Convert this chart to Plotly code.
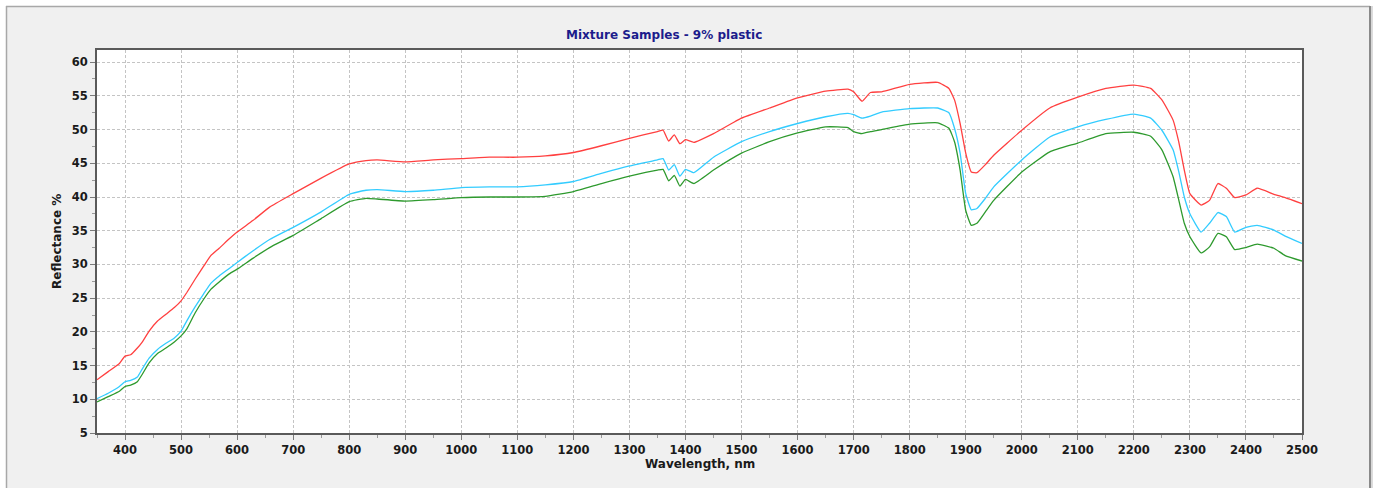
import plotly.graph_objects as go

wavelength = [350, 370, 390, 400, 410, 422, 430, 443, 458, 473, 488, 500, 510, 525, 540, 553, 568, 586,
              600, 628, 658, 700, 750, 800, 830, 850, 900, 950,
              1000, 1050, 1100, 1150, 1200, 1250, 1300, 1350, 1360, 1370, 1380, 1390, 1400, 1415,
              1450, 1500, 1550, 1600, 1650, 1690, 1700, 1715, 1730, 1750, 1800, 1850, 1870, 1880,
              1890, 1900, 1910, 1920, 1935, 1950, 2000, 2050, 2100, 2150, 2200, 2230, 2250, 2270, 2280,
              2290, 2300, 2320, 2335, 2350, 2365, 2380, 2400, 2420, 2450, 2470, 2500]

red = [12.9, 14.1, 15.3, 16.4, 16.6, 17.6, 18.4, 20.1, 21.6, 22.6, 23.6, 24.6, 25.8, 27.8, 29.7, 31.3, 32.4, 33.8,
       34.8, 36.5, 38.5, 40.5, 42.8, 44.9, 45.4, 45.5, 45.2, 45.5,
       45.7, 45.9, 45.9, 46.1, 46.6, 47.6, 48.7, 49.7, 49.9, 48.3, 49.2, 47.9, 48.5, 48.1,
       49.4, 51.7, 53.2, 54.7, 55.7, 56.0, 55.6, 54.2, 55.5, 55.6, 56.7, 57.0, 56.1, 54.4,
       50.9, 46.5, 43.7, 43.6, 44.8, 46.2, 49.9, 53.2, 54.8, 56.1, 56.6, 56.1, 54.4, 51.4, 48.2,
       44.0, 40.5, 38.8, 39.5, 42.0, 41.3, 39.9, 40.3, 41.3, 40.4, 39.9, 39.0]

cyan = [10.1, 10.9, 11.9, 12.6, 12.8, 13.3, 14.4, 16.1, 17.4, 18.3, 19.1, 20.1, 21.6, 23.7, 25.6, 27.2, 28.3, 29.4,
        30.3, 32.0, 33.7, 35.5, 37.8, 40.4, 41.0, 41.1, 40.8, 41.0,
        41.4, 41.5, 41.5, 41.8, 42.3, 43.5, 44.6, 45.5, 45.7, 44.0, 44.8, 43.1, 44.1, 43.6,
        45.9, 48.2, 49.7, 50.9, 51.9, 52.4, 52.2, 51.7, 52.0, 52.6, 53.1, 53.2, 52.5, 50.2,
        46.5, 40.5, 38.1, 38.3, 39.8, 41.5, 45.5, 48.9, 50.4, 51.5, 52.3, 51.7, 49.9, 47.0, 43.8,
        40.0, 37.5, 34.8, 36.1, 37.7, 37.1, 34.8, 35.5, 35.8, 35.1, 34.2, 33.1]

green = [9.6, 10.4, 11.2, 11.9, 12.1, 12.6, 13.6, 15.4, 16.8, 17.6, 18.5, 19.4, 20.4, 22.8, 24.8, 26.3, 27.4, 28.6,
         29.3, 30.9, 32.5, 34.3, 36.8, 39.3, 39.8, 39.7, 39.4, 39.6,
         39.9, 40.0, 40.0, 40.1, 40.8, 42.0, 43.1, 44.0, 44.1, 42.4, 43.2, 41.6, 42.6, 42.0,
         44.0, 46.5, 48.2, 49.5, 50.4, 50.3, 49.7, 49.4, 49.7, 50.0, 50.8, 51.0, 50.2, 48.2,
         44.0, 38.0, 35.8, 36.1, 37.8, 39.5, 43.7, 46.7, 48.0, 49.4, 49.6, 49.0, 47.0, 43.0, 39.6,
         36.1, 34.1, 31.7, 32.6, 34.6, 34.1, 32.2, 32.5, 33.0, 32.4, 31.3, 30.5]

x_ticks = list(range(400, 2501, 100))
y_ticks = list(range(5, 61, 5))

W, H = 1378, 488
L, R, T, B = 97, 1302, 50, 433


def px(x):
    return (x - L) / (R - L)


def py(y):
    return (B - y) / (B - T)


fig = go.Figure()
for name, vals, col in [("Sample 1", red, "#FF4040"), ("Sample 2", cyan, "#33CCFF"), ("Sample 3", green, "#2E9A2E")]:
    fig.add_trace(go.Scatter(x=wavelength, y=vals, mode="lines", name=name,
                             line=dict(color=col, width=1.3, shape="spline", smoothing=0.4)))

font = "DejaVu Sans, Verdana, sans-serif"
axis_common = dict(
    showline=True, linecolor="#5A5A5A", linewidth=2, mirror=True,
    showgrid=True, gridcolor="#C4C4C4", gridwidth=1, griddash="3px,2px",
    ticks="outside", ticklen=5, tickcolor="#7A7A7A", tickwidth=1,
    tickfont=dict(family=font, size=11.5, color="#1A1A1A", weight="bold"),
    zeroline=False,
)

fig.update_xaxes(range=[350, 2500], tickvals=x_ticks, ticktext=[str(v) for v in x_ticks],
                 minor=dict(dtick=50, tick0=350, ticks="outside", ticklen=3, tickcolor="#9A9A9A", showgrid=False),
                 **axis_common)
fig.update_yaxes(range=[5, 61.8], tickvals=y_ticks, ticktext=[str(v) for v in y_ticks],
                 minor=dict(dtick=2.5, tick0=5, ticks="outside", ticklen=3, tickcolor="#9A9A9A", showgrid=False),
                 **axis_common)

shapes = []
# white outer strips
shapes.append(dict(type="rect", xref="paper", yref="paper", x0=px(0), x1=px(W), y0=py(6), y1=py(0),
                   fillcolor="white", line=dict(width=0), layer="below"))
shapes.append(dict(type="rect", xref="paper", yref="paper", x0=px(0), x1=px(6), y0=py(H), y1=py(0),
                   fillcolor="white", line=dict(width=0), layer="below"))
shapes.append(dict(type="rect", xref="paper", yref="paper", x0=px(1372), x1=px(W), y0=py(H), y1=py(0),
                   fillcolor="white", line=dict(width=0), layer="below"))
# frame borders
shapes.append(dict(type="line", xref="paper", yref="paper", x0=px(6), x1=px(1370), y0=py(6.5), y1=py(6.5),
                   line=dict(color="#A8A8A8", width=1.5)))
shapes.append(dict(type="line", xref="paper", yref="paper", x0=px(6.5), x1=px(6.5), y0=py(6), y1=py(H + 5),
                   line=dict(color="#A8A8A8", width=1.5)))
shapes.append(dict(type="line", xref="paper", yref="paper", x0=px(1370), x1=px(1370), y0=py(6), y1=py(H + 5),
                   line=dict(color="#8A8A8A", width=2)))
shapes.append(dict(type="line", xref="paper", yref="paper", x0=px(1372), x1=px(1372), y0=py(6), y1=py(H + 5),
                   line=dict(color="#D0D0D0", width=1.5)))

annotations = [
    dict(text="Mixture Samples - 9% plastic", xref="paper", yref="paper", x=px(664), y=py(35),
         showarrow=False, xanchor="center", yanchor="middle",
         font=dict(family=font, size=12, color="#1C1C8C", weight="bold")),
    dict(text="Wavelength, nm", xref="paper", yref="paper", x=px(700), y=py(464),
         showarrow=False, xanchor="center", yanchor="middle",
         font=dict(family=font, size=12, color="#1A1A1A", weight="bold")),
    dict(text="Reflectance %", xref="paper", yref="paper", x=px(57), y=py(242), textangle=-90,
         showarrow=False, xanchor="center", yanchor="middle",
         font=dict(family=font, size=12, color="#1A1A1A", weight="bold")),
]

fig.update_layout(
    width=W, height=H,
    margin=dict(l=L, r=W - R, t=T, b=H - B, pad=0),
    paper_bgcolor="#F0F0F0", plot_bgcolor="white",
    showlegend=False,
    shapes=shapes, annotations=annotations,
)

fig.write_html("out.html", config={"displayModeBar": False})
